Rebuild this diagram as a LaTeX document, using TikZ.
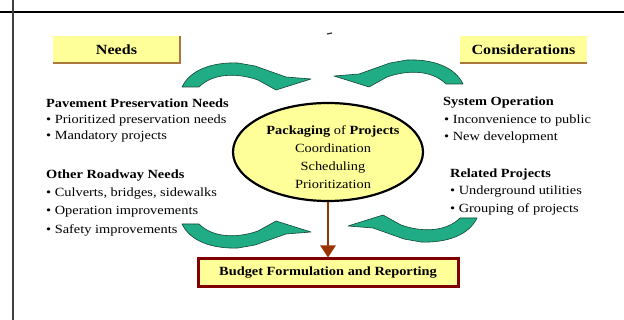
\documentclass[tikz,border=0pt]{standalone}
\usepackage{fontspec}
\setmainfont{Liberation Serif}[FakeStretch=1.15]
\usetikzlibrary{shapes.geometric,arrows.meta}
\definecolor{paleyel}{RGB}{255,255,153}
\definecolor{shadowbr}{RGB}{170,120,60}
\definecolor{budred}{RGB}{128,0,0}
\definecolor{arrbrown}{RGB}{153,51,0}
\definecolor{teal1}{RGB}{32,172,132}
\definecolor{tealedge}{RGB}{20,70,55}
\tikzset{
  txt/.style={anchor=west, inner sep=0pt, font=\fontsize{12.5}{14}\selectfont},
  hdr/.style={txt, font=\fontsize{12.5}{14}\selectfont\bfseries},
  topbox/.style={fill=paleyel, minimum width=127pt, minimum height=27pt, inner sep=0pt, font=\fontsize{14}{16}\selectfont\bfseries},
  greenarr/.style={fill=teal1, draw=tealedge, line width=0.6pt, line join=round},
  frameline/.style={line width=2pt},
}
\newcommand{\curvedarrowshape}{%
  \path[greenarr] (182,87) .. controls (190,70) and (212,62) .. (238,63)
    -- (255,66) -- (286,77) -- (311,79) -- (276,90) -- (258,80)
    .. controls (235,72) and (212,74) .. (199,87) -- cycle;}
\begin{document}
\begin{tikzpicture}[x=1pt, y=-1pt]
\useasboundingbox (0,0) rectangle (624,320);
% frame
\draw[frameline, black] (0,12) -- (624,12);
\draw[frameline, black!75] (13,0) -- (13,320);
% top boxes
\node[topbox] (needs) at (116.5,49.5) {Needs};
\draw[shadowbr, line width=1.5pt] (needs.north east) -- (needs.south east) -- (needs.south west);
\node[topbox] (cons) at (523.5,49.5) {Considerations};
\draw[shadowbr, line width=1.5pt] (cons.south west) -- (cons.south east);
% small mark
\draw[line width=1.2pt, black!80] (327,34) -- (332,33);
% green curved arrows
\begin{scope}\curvedarrowshape\end{scope}
\begin{scope}[xshift=645pt, yshift=3pt, xscale=-1]\curvedarrowshape\end{scope}
\begin{scope}[yshift=-311pt, yscale=-1]\curvedarrowshape\end{scope}
\begin{scope}[xshift=659pt, yshift=-305pt, xscale=-1, yscale=-1]\curvedarrowshape\end{scope}
% central ellipse
\node[ellipse, draw, line width=2.2pt, fill=paleyel, minimum width=190pt, minimum height=98pt] (pk) at (328,152) {};
\node[align=center, inner sep=0pt, font=\fontsize{12.5}{18}\selectfont] (pktxt) at (333,157)
  {\textbf{Packaging} of \textbf{Projects}\\Coordination\\Scheduling\\Prioritization};
% budget box
\node[draw=budred, line width=3pt, fill=paleyel, minimum width=260pt, minimum height=28pt, inner sep=0pt,
  font=\fontsize{12.5}{14}\selectfont\bfseries] (bud) at (328,273) {Budget Formulation and Reporting};
\draw[arrbrown, line width=2.5pt, -{Triangle[length=12pt, width=15pt]}] (pk.south) -- (bud.north);
% left texts
\node[hdr] (pvh) at (46,103) {Pavement Preservation Needs};
\node[txt] (pv1) at (46,120) {\textbullet\ Prioritized preservation needs};
\node[txt] (pv2) at (46,137) {\textbullet\ Mandatory projects};
\node[hdr] (orh) at (46,176) {Other Roadway Needs};
\node[txt] (or1) at (46,194) {\textbullet\ Culverts, bridges, sidewalks};
\node[txt] (or2) at (46,212) {\textbullet\ Operation improvements};
\node[txt] (or3) at (46,230) {\textbullet\ Safety improvements};
% right texts
\node[hdr] (soh) at (443,103) {System Operation};
\node[txt] (so1) at (444,120) {\textbullet\ Inconvenience to public};
\node[txt] (so2) at (444,137) {\textbullet\ New development};
\node[hdr] (rph) at (450,174) {Related Projects};
\node[txt] (rp1) at (450,192) {\textbullet\ Underground utilities};
\node[txt] (rp2) at (450,209) {\textbullet\ Grouping of projects};
\end{tikzpicture}
\end{document}
